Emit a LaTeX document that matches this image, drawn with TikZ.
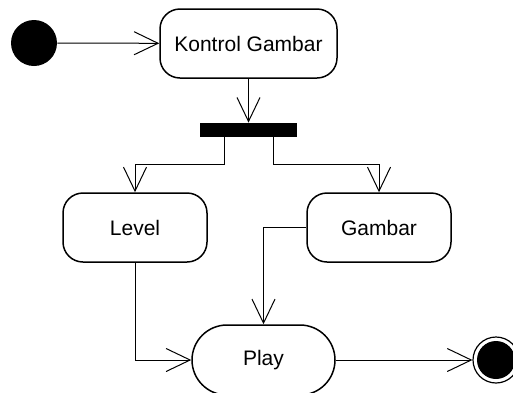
\documentclass[tikz,border=0pt]{standalone}
\usepackage{fontspec}
\setmainfont{Liberation Sans}
\usetikzlibrary{arrows.meta}
\tikzset{activity/.style = {draw, fill=white, line width=0.75pt, rectangle, rounded corners=10pt, minimum height=34.5pt, minimum width=72pt, font=\fontsize{10.5}{12}\selectfont},
         state/.style = {draw, fill=white, line width=0.75pt, rectangle, rounded corners=17.5pt, minimum height=35pt, minimum width=71.5pt, font=\fontsize{10.5}{12}\selectfont},
         forkbar/.style = {fill=black, rectangle, inner sep=0pt, minimum height=7pt, minimum width=48.5pt},
         startdot/.style = {fill=black, circle, inner sep=0pt, minimum size=23pt},
         endring/.style = {draw, line width=0.6pt, circle, inner sep=0pt, minimum size=23pt},
         enddot/.style = {fill=black, circle, inner sep=0pt, minimum size=19pt},
         flow/.style = {line width=0.5pt, -{Straight Barb[length=12pt,width=11.5pt,line width=0.5pt]}}}

\begin{document}
\begin{tikzpicture}[x=0.5pt,y=-0.5pt]
        \useasboundingbox (0,0) rectangle (513,392);
        \node[startdot](start)at(34,43){};
        \node[activity, minimum width=88.5pt](kontrol)at(248.5,43.5){Kontrol Gambar};
        \node[forkbar](bar)at(248.5,130){};
        \node[activity](level)at(135,227.5){Level};
        \node[activity](gambar)at(379,227.5){Gambar};
        \node[state](play)at(263.5,360){Play};
        \node[endring](final)at(496,360){};
        \node[enddot](finaldot)at(final){};

        \coordinate(splitL)at(135,164);
        \coordinate(splitR)at(379,164);

        \draw[flow](start)--(kontrol);
        \draw[flow](kontrol)--(bar);
        \draw[flow]([xshift=-12.25pt]bar.south)|-(splitL)--(level);
        \draw[flow]([xshift=12.25pt]bar.south)|-(splitR)--(gambar);
        \draw[flow](level)|-(play);
        \draw[flow](gambar.west)-|(play.north);
        \draw[flow](play)--(final);
    \end{tikzpicture}
\end{document}
